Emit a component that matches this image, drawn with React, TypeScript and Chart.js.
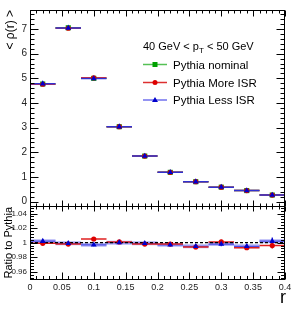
import React, { useEffect, useRef } from 'react';
import { Chart, registerables } from 'chart.js';
Chart.register(...registerables);

const FONT = "'Liberation Sans', Arial, sans-serif";

const binCenters = [0.02, 0.06, 0.10, 0.14, 0.18, 0.22, 0.26, 0.30, 0.34, 0.38];
const binHalfWidth = 0.02;

const nominal = [4.77, 7.05, 5.0, 3.04, 1.85, 1.19, 0.81, 0.59, 0.45, 0.27];
const moreISR = [4.76, 7.03, 5.02, 3.04, 1.85, 1.19, 0.81, 0.59, 0.45, 0.27];
const lessISR = [4.78, 7.04, 4.99, 3.04, 1.85, 1.19, 0.81, 0.59, 0.45, 0.27];

const ratioMore = [0.999, 0.998, 1.005, 1.001, 0.998, 0.998, 0.994, 1.001, 0.993, 0.996];
const ratioLess = [1.002, 0.999, 0.997, 1.0, 0.999, 0.997, 0.995, 0.998, 0.995, 1.002];
const ratioMoreErr = [0.002, 0.002, 0.002, 0.001, 0.002, 0.002, 0.003, 0.003, 0.003, 0.004];
const ratioLessErr = [0.003, 0.002, 0.002, 0.001, 0.002, 0.002, 0.003, 0.003, 0.003, 0.005];

const xTicks = [0, 0.05, 0.1, 0.15, 0.2, 0.25, 0.3, 0.35, 0.4];
const xTickLabels = ['0', '0.05', '0.1', '0.15', '0.2', '0.25', '0.3', '0.35', '0.4'];
const yTicks = [0, 1, 2, 3, 4, 5, 6, 7];
const yTickLabels = ['0', '1', '2', '3', '4', '5', '6', '7'];
const ratioTicks = [0.96, 0.98, 1, 1.02, 1.04];
const ratioTickLabels = ['0.96', '0.98', '1', '1.02', '1.04'];

const seriesNames = ['Pythia nominal', 'Pythia More ISR', 'Pythia Less ISR'];
const legendTitle = ['40 GeV < p', 'T', ' < 50 GeV'];

const GREEN = '#00a000';
const RED = '#dd0000';
const BLUE = '#0000cc';

function hSegments(vals: number[]) {
  const d: any[] = [];
  binCenters.forEach((c, i) => {
    d.push({ x: c - binHalfWidth, y: vals[i] }, { x: c + binHalfWidth, y: vals[i] }, { x: c, y: null });
  });
  return d;
}
function vSegments(vals: number[], errs: number[]) {
  const d: any[] = [];
  binCenters.forEach((c, i) => {
    d.push({ x: c, y: vals[i] - errs[i] }, { x: c, y: vals[i] + errs[i] }, { x: c, y: null });
  });
  return d;
}
function pts(vals: number[]) {
  return binCenters.map((c, i) => ({ x: c, y: vals[i] }));
}

function lineDs(data: any[], yAxisID: string, color: string, width: number, order: number, dash?: number[]) {
  return {
    type: 'line' as const,
    data,
    yAxisID,
    borderColor: color,
    borderWidth: width,
    borderDash: dash || [],
    pointRadius: 0,
    spanGaps: false,
    fill: false,
    tension: 0,
    order,
  };
}
function markDs(data: any[], yAxisID: string, color: string, style: string, r: number, order: number) {
  return {
    type: 'scatter' as const,
    data,
    yAxisID,
    pointStyle: style,
    pointRadius: r,
    pointBackgroundColor: color,
    pointBorderColor: color,
    pointBorderWidth: 0,
    showLine: false,
    order,
  };
}

function drawTicksY(ctx: CanvasRenderingContext2D, s: any, majors: number[], minorStep: number, L: number, R: number, majLen: number, minLen: number) {
  const kmin = Math.ceil(s.min / minorStep - 1e-9);
  const kmax = Math.floor(s.max / minorStep + 1e-9);
  for (let k = kmin; k <= kmax; k++) {
    const v = k * minorStep;
    const isMajor = majors.some((m) => Math.abs(m - v) < minorStep / 10);
    const len = isMajor ? majLen : minLen;
    const y = Math.round(s.getPixelForValue(v)) + 0.5;
    ctx.beginPath();
    ctx.moveTo(L, y); ctx.lineTo(L + len, y);
    ctx.moveTo(R, y); ctx.lineTo(R - len, y);
    ctx.stroke();
  }
}
function drawTicksX(ctx: CanvasRenderingContext2D, s: any, majors: number[], minorStep: number, T: number, B: number, tMaj: number, tMin: number, bMaj: number, bMin: number) {
  const kmin = Math.ceil(s.min / minorStep - 1e-9);
  const kmax = Math.floor(s.max / minorStep + 1e-9);
  for (let k = kmin; k <= kmax; k++) {
    const v = k * minorStep;
    const isMajor = majors.some((m) => Math.abs(m - v) < minorStep / 10);
    const x = Math.round(s.getPixelForValue(v)) + 0.5;
    ctx.beginPath();
    ctx.moveTo(x, T); ctx.lineTo(x, T + (isMajor ? tMaj : tMin));
    ctx.moveTo(x, B); ctx.lineTo(x, B - (isMajor ? bMaj : bMin));
    ctx.stroke();
  }
}

const decorPlugin = {
  id: 'decor',
  afterDraw(chart: any) {
    const ctx: CanvasRenderingContext2D = chart.ctx;
    const xs = chart.scales.x, yu = chart.scales.y, yr = chart.scales.yr;
    const L = Math.round(xs.left) + 0.5, R = Math.round(xs.right) - 0.5;
    ctx.save();
    ctx.strokeStyle = '#000';
    ctx.lineWidth = 1;
    const uT = Math.round(yu.top) + 0.5, uB = Math.round(yu.bottom) + 0.5;
    const lT = Math.round(yr.top) + 0.5, lB = Math.round(yr.bottom) - 0.5;
    ctx.strokeRect(L, uT, R - L, uB - uT);
    ctx.strokeRect(L, lT, R - L, lB - lT);
    drawTicksY(ctx, yu, yTicks, 0.2, L, R, 8, 4);
    drawTicksY(ctx, yr, ratioTicks, 0.004, L, R, 7, 3.5);
    drawTicksX(ctx, xs, xTicks, 0.01, uT, uB, 6, 3, 6, 3);
    drawTicksX(ctx, xs, xTicks, 0.01, lT, lB, 5, 3, 7, 3.5);

    ctx.fillStyle = '#000';
    ctx.save();
    ctx.translate(14, 10);
    ctx.rotate(-Math.PI / 2);
    ctx.font = `12px ${FONT}`;
    ctx.textAlign = 'right';
    ctx.textBaseline = 'alphabetic';
    ctx.fillText('< \u03C1(r) >', 0, 0);
    ctx.restore();

    ctx.save();
    ctx.translate(12, 207);
    ctx.rotate(-Math.PI / 2);
    ctx.font = `11px ${FONT}`;
    ctx.textAlign = 'right';
    ctx.textBaseline = 'alphabetic';
    ctx.fillText('Ratio to Pythia', 0, 0);
    ctx.restore();

    ctx.font = `18px ${FONT}`;
    ctx.textAlign = 'right';
    ctx.textBaseline = 'alphabetic';
    ctx.fillText('r', 286, 303);

    ctx.textAlign = 'left';
    let x = 143;
    const by = 50;
    ctx.font = `11px ${FONT}`;
    ctx.fillText(legendTitle[0], x, by);
    x += ctx.measureText(legendTitle[0]).width;
    ctx.font = `8px ${FONT}`;
    ctx.fillText(legendTitle[1], x, by + 3);
    x += ctx.measureText(legendTitle[1]).width;
    ctx.font = `11px ${FONT}`;
    ctx.fillText(legendTitle[2], x, by);

    const rows = [64.5, 82.5, 100];
    const lineCols = ['#55c055', '#dd3030', '#7070ee'];
    const markCols = [GREEN, RED, BLUE];
    ctx.font = `11.5px ${FONT}`;
    rows.forEach((ry, i) => {
      ctx.strokeStyle = lineCols[i];
      ctx.lineWidth = 1.5;
      ctx.beginPath();
      ctx.moveTo(143, ry); ctx.lineTo(167, ry);
      ctx.stroke();
      ctx.fillStyle = markCols[i];
      const mx = 155;
      if (i === 0) ctx.fillRect(mx - 2.5, ry - 2.5, 5, 5);
      else if (i === 1) { ctx.beginPath(); ctx.arc(mx, ry, 2.5, 0, Math.PI * 2); ctx.fill(); }
      else { ctx.beginPath(); ctx.moveTo(mx, ry - 3); ctx.lineTo(mx + 3, ry + 2); ctx.lineTo(mx - 3, ry + 2); ctx.closePath(); ctx.fill(); }
      ctx.fillStyle = '#000';
      ctx.fillText(seriesNames[i], 173, ry + 4.2);
    });
    ctx.restore();
  },
};

export default function App() {
  const ref = useRef<HTMLCanvasElement>(null);
  useEffect(() => {
    const datasets: any[] = [
      lineDs(hSegments(nominal), 'y', '#30b030', 1.5, 20),
      lineDs(hSegments(moreISR), 'y', '#e03030', 1.5, 19),
      lineDs(hSegments(lessISR), 'y', '#3030d0', 1.5, 18),
      markDs(pts(nominal), 'y', GREEN, 'rect', 3.6, 5),
      markDs(pts(moreISR), 'y', RED, 'circle', 2.6, 4),
      markDs(pts(lessISR), 'y', BLUE, 'triangle', 3.4, 3),
      lineDs(hSegments(ratioLess), 'yr', 'rgba(120,120,240,0.55)', 4, 30),
      lineDs(hSegments(ratioMore), 'yr', '#e02020', 1.5, 27),
      lineDs(hSegments(ratioLess), 'yr', '#4a4ae6', 1.3, 28),
      lineDs([{ x: 0, y: 1 }, { x: 0.4, y: 1 }], 'yr', '#000', 1.2, 26, [3, 2]),
      lineDs(vSegments(ratioMore, ratioMoreErr), 'yr', '#e02020', 1.3, 12),
      lineDs(vSegments(ratioLess, ratioLessErr), 'yr', '#2020d0', 1.3, 11),
      markDs(pts(ratioMore), 'yr', RED, 'circle', 2.6, 2),
      markDs(pts(ratioLess), 'yr', BLUE, 'triangle', 3.4, 1),
    ];
    const noGrid = { display: false, drawTicks: false };
    const chart = new Chart(ref.current!, {
      type: 'line',
      data: { datasets },
      plugins: [decorPlugin],
      options: {
        responsive: false,
        animation: false,
        devicePixelRatio: 1,
        layout: { padding: { top: 10, right: 15, left: 0, bottom: 0 } },
        plugins: { legend: { display: false }, tooltip: { enabled: false }, title: { display: false } },
        scales: {
          x: {
            type: 'linear', position: 'bottom', min: 0, max: 0.4,
            grid: noGrid, border: { display: false },
            ticks: { autoSkip: false, maxRotation: 0, padding: 2, color: '#222', font: { family: FONT, size: 9 }, callback: (_v: any, i: number) => xTickLabels[i] },
            afterBuildTicks: (s: any) => { s.ticks = xTicks.map((v) => ({ value: v })); },
            afterFit: (s: any) => { s.height = 42; },
          },
          yr: {
            type: 'linear', position: 'left', stack: 'pads', stackWeight: 74, offset: false,
            min: 0.9487, max: 1.0503,
            grid: noGrid, border: { display: false },
            ticks: { autoSkip: false, padding: 3, color: '#222', font: { family: FONT, size: 8 }, callback: (_v: any, i: number) => ratioTickLabels[i] },
            afterBuildTicks: (s: any) => { s.ticks = ratioTicks.map((v) => ({ value: v })); },
            afterFit: (s: any) => { s.width = 30; },
          },
          y: {
            type: 'linear', position: 'left', stack: 'pads', stackWeight: 196, offset: false,
            min: -0.174, max: 7.77,
            grid: noGrid, border: { display: false },
            ticks: { autoSkip: false, padding: 3, color: '#222', font: { family: FONT, size: 10 }, callback: (_v: any, i: number) => yTickLabels[i] },
            afterBuildTicks: (s: any) => { s.ticks = yTicks.map((v) => ({ value: v })); },
            afterFit: (s: any) => { s.width = 30; },
          },
        },
      } as any,
    });
    return () => chart.destroy();
  }, []);
  return (
    <div style={{ position: 'absolute', left: 0, top: 0, width: 300, height: 322, background: '#fff' }}>
      <canvas ref={ref} width={300} height={322} style={{ display: 'block', width: 300, height: 322 }} />
    </div>
  );
}
